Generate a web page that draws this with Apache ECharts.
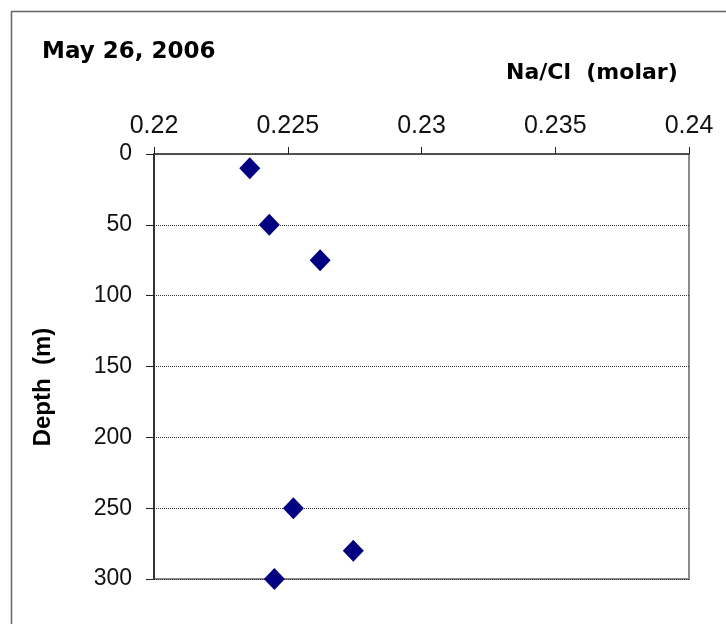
<!DOCTYPE html>
<html>
<head>
<meta charset="utf-8">
<script src="https://cdn.jsdelivr.net/npm/echarts@6/dist/echarts.min.js"></script>
<style>
  html, body { margin: 0; padding: 0; background: #fff; }
  #chart { width: 726px; height: 624px; }
</style>
</head>
<body>
<div id="chart"></div>
<script>
// Na/Cl molar ratio vs depth, May 26, 2006
var naClRatio = [0.22358, 0.22431, 0.22621, 0.22521, 0.22745, 0.2245];
var depthM = [10, 50, 75, 250, 280, 300];
var xTicks = [0.22, 0.225, 0.23, 0.235, 0.24];
var yTicks = [0, 50, 100, 150, 200, 250, 300];

var points = naClRatio.map(function (v, i) { return [v, depthM[i]]; });
var font = '"Liberation Sans", Arial, sans-serif';
var wideBold = '"DejaVu Sans", sans-serif';

var chart = echarts.init(document.getElementById('chart'));
var option = {
  animation: false,
  backgroundColor: '#fff',
  grid: {
    left: 154, top: 154, right: 37, bottom: 45,
    show: true, borderColor: '#8c8c8c', borderWidth: 2
  },
  xAxis: {
    type: 'value',
    position: 'top',
    min: xTicks[0],
    max: xTicks[xTicks.length - 1],
    interval: 0.005,
    axisLine: { show: true, lineStyle: { color: '#444', width: 1.5 } },
    axisTick: { show: true, inside: false, length: 7, lineStyle: { color: '#222' } },
    axisLabel: {
      margin: 15,
      fontFamily: font, fontSize: 25, color: '#111',
      formatter: function (v) { return String(+v.toFixed(3)); }
    },
    splitLine: { show: false }
  },
  yAxis: {
    type: 'value',
    inverse: true,
    min: yTicks[0],
    max: yTicks[yTicks.length - 1],
    interval: 50,
    axisLine: { show: true, lineStyle: { color: '#333', width: 2 } },
    axisTick: { show: true, inside: false, length: 8, lineStyle: { color: '#222' } },
    axisLabel: { margin: 22, fontFamily: font, fontSize: 23, color: '#111' },
    splitLine: { show: true, lineStyle: { color: '#333', width: 1, type: [1, 1] } }
  },
  series: [{
    type: 'scatter',
    symbol: 'diamond',
    symbolSize: [21, 22],
    itemStyle: { color: '#000080', opacity: 1 },
    data: points,
    z: 10
  }],
  graphic: [
    {
      type: 'rect', silent: true, z: -1,
      shape: { x: 11.5, y: 11.5, width: 800, height: 700 },
      style: { fill: 'none', stroke: '#666', lineWidth: 1.5 }
    },
    {
      type: 'text', x: 42, y: 52,
      style: {
        text: 'May 26, 2006', font: 'bold 23px ' + wideBold, fill: '#000',
        verticalAlign: 'middle'
      }
    },
    {
      type: 'text', x: 506, y: 73,
      style: {
        text: 'Na/Cl  (molar)', font: 'bold 22px ' + wideBold, fill: '#000',
        verticalAlign: 'middle'
      }
    },
    {
      type: 'text', x: 43, y: 387, rotation: Math.PI / 2,
      style: {
        text: 'Depth  (m)', font: 'bold 24px ' + font, fill: '#000',
        align: 'center', verticalAlign: 'middle'
      }
    }
  ]
};
chart.setOption(option);
</script>
</body>
</html>
